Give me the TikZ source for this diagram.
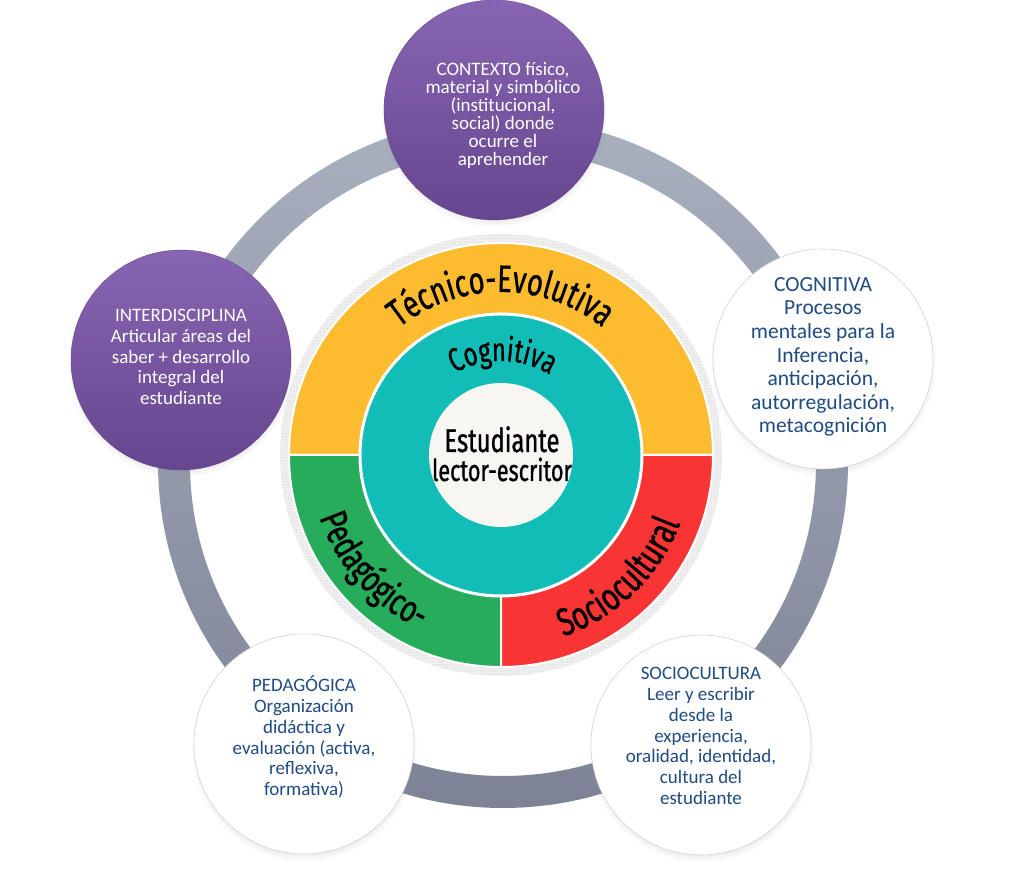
\documentclass[tikz,border=0pt]{standalone}
\usepackage{fontspec}
\setmainfont{Carlito}
\newfontfamily\condfont{Fira Sans}[FakeStretch=0.72,FakeBold=0.9]
\usetikzlibrary{decorations.text,shadows,patterns}

\definecolor{purpletop}{HTML}{8865B2}
\definecolor{purplebot}{HTML}{66468F}
\definecolor{navytext}{HTML}{1F4A82}
\definecolor{ringtop}{HTML}{A8B0BE}
\definecolor{ringbot}{HTML}{7D8396}
\definecolor{yellowseg}{HTML}{FDBB30}
\definecolor{greenseg}{HTML}{27AC5C}
\definecolor{redseg}{HTML}{F83434}
\definecolor{tealseg}{HTML}{12BCB7}
\definecolor{centerfill}{HTML}{F7F6F3}

\tikzset{
  bubble/.style={circle, minimum size=220pt, inner sep=0pt,
    circular drop shadow={shadow xshift=0pt, shadow yshift=-4pt,
      shadow scale=1.03, opacity=.3}},
  purplebubble/.style={bubble, top color=purpletop, bottom color=purplebot,
    draw=purplebot, line width=.4pt},
  whitebubble/.style={bubble, fill=white, draw=gray!35, line width=.6pt},
  bubbletext/.style={align=center, text=navytext,
    font=\fontsize{19}{20.8}\selectfont},
  arctext/.style 2 args={decorate, decoration={text along path, text align=center,
    text={|\condfont\fontsize{#1}{#1}\selectfont|#2}}},
  seg/.style={draw=white, line width=2pt}
}

\begin{document}
\begin{tikzpicture}[x=1pt,y=1pt]
    \useasboundingbox (0,0) rectangle (1012,872);
    \coordinate (ringc) at (503,409);
    \coordinate (c) at (501,417);

    \shade[top color=ringtop, bottom color=ringbot, even odd rule]
      (ringc) circle (345) (ringc) circle (313);

    \fill[gray!12] (c) circle (221);
    \fill[pattern=dots, pattern color=gray!55] (c) circle (221);
    \fill[yellowseg, seg] (c) -- ++(0:212) arc[start angle=0, end angle=180, radius=212] -- cycle;
    \fill[greenseg, seg] (c) -- ++(180:212) arc[start angle=180, end angle=270, radius=212] -- cycle;
    \fill[redseg, seg] (c) -- ++(270:212) arc[start angle=270, end angle=360, radius=212] -- cycle;
    \filldraw[fill=tealseg, draw=white, line width=3pt] (c) circle (141);
    \fill[centerfill] (c) circle (72);

    \path[arctext={38}{Técnico-Evolutiva}, shift={(c)}]
      (165:163) arc[start angle=165, end angle=15, radius=163];
    \path[arctext={33}{Cognitiva}, shift={(c)}]
      (150:94) arc[start angle=150, end angle=28, radius=94];
    \path[arctext={38}{Pedagógico-}, shift={(c)}]
      (185:192) arc[start angle=185, end angle=259, radius=192];
    \path[arctext={39}{Sociocultural}, shift={(c)}]
      (277:192) arc[start angle=277, end angle=351, radius=192];

    \node[anchor=base, font=\condfont\fontsize{33}{33}\selectfont] (stud) at (502,420) {Estudiante};
    \node[anchor=base, font=\condfont\fontsize{30}{30}\selectfont] (writer) at (502,391) {lector-escritor};

    \node[purplebubble] (ctx) at (494,762) {};
    \node[bubbletext, text=white, font=\fontsize{19}{18}\selectfont]
      (ctxtext) at ([xshift=9pt, yshift=-5pt]ctx.center)
      {CONTEXTO físico,\\material y simbólico\\(institucional,\\social) donde\\ocurre el\\aprehender};

    \node[purplebubble] (inter) at (181,512) {};
    \node[bubbletext, text=white] (intertext) at ([yshift=3pt]inter.center)
      {INTERDISCIPLINA\\Articular áreas del\\saber + desarrollo\\integral del\\estudiante};

    \node[whitebubble] (cogn) at (823,513) {};
    \node[bubbletext, font=\fontsize{21.5}{23.6}\selectfont] (cogntext) at ([yshift=2pt]cogn.center)
      {COGNITIVA\\Procesos\\mentales para la\\Inferencia,\\anticipación,\\autorregulación,\\metacognición};

    \node[whitebubble] (pedag) at (304,128) {};
    \node[bubbletext] (pedagtext) at ([yshift=7pt]pedag.center)
      {PEDAGÓGICA\\Organización\\didáctica y\\evaluación (activa,\\reflexiva,\\formativa)};

    \node[whitebubble] (socio) at (701,127) {};
    \node[bubbletext] (sociotext) at ([yshift=9pt]socio.center)
      {SOCIOCULTURA\\Leer y escribir\\desde la\\experiencia,\\oralidad, identidad,\\cultura del\\estudiante};
\end{tikzpicture}
\end{document}
